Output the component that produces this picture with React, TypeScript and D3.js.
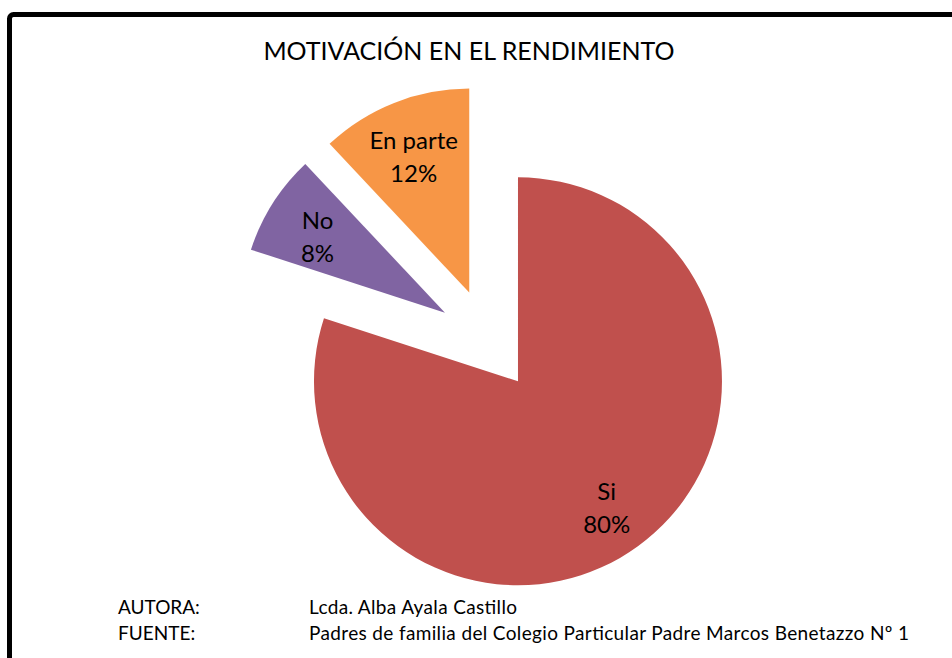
import React from "react";
import * as d3 from "d3";

const categories = ["Si", "No", "En parte"];
const values = [80, 8, 12];
const colors = ["#C0504D", "#8064A2", "#F79646"];
const title = "MOTIVACIÓN EN EL RENDIMIENTO";
const footerLabels = ["AUTORA:", "FUENTE:"];
const footerValues = ["Lcda. Alba Ayala Castillo", "Padres de familia del Colegio Particular Padre Marcos Benetazzo Nº 1"];
const footerWidths = [208, 600];

const W = 952;
const H = 658;
const cx = 488;
const cy = 340;
const R = 204;
const explode = 51;
const FONT = "Lato, 'Open Sans', sans-serif";

export default function App() {
  const total = d3.sum(values);
  const pie = d3.pie<number>().sort(null).value((d) => d)(values);
  const arc = d3.arc<d3.PieArcDatum<number>>().innerRadius(0).outerRadius(R);
  return (
    <svg width={W} height={H} style={{ position: "absolute", left: 0, top: 0 }} fontFamily={FONT}>
      <rect x={0} y={0} width={W} height={H} fill="#fff" />
      <rect x={9.5} y={14.5} width={W + 20} height={H + 20} rx={4} fill="none" stroke="#000" strokeWidth={5} />
      <text x={469} y={60} textAnchor="middle" fontSize={25} fill="#000">{title}</text>
      {pie.map((p, i) => {
        const mid = (p.startAngle + p.endAngle) / 2;
        const dx = Math.sin(mid) * explode;
        const dy = -Math.cos(mid) * explode;
        const lr = R * 0.74;
        const lx = Math.sin(mid) * lr;
        const ly = -Math.cos(mid) * lr;
        const pct = Math.round((values[i] / total) * 100) + "%";
        return (
          <g key={i} transform={`translate(${cx + dx},${cy + dy})`}>
            <path d={arc(p) || ""} fill={colors[i]} />
            <text x={lx} y={ly - 3} textAnchor="middle" fontSize={24} fill="#000">{categories[i]}</text>
            <text x={lx} y={ly + 30} textAnchor="middle" fontSize={24} fill="#000">{pct}</text>
          </g>
        );
      })}
      {footerLabels.map((l, i) => (
        <g key={l}>
          <text x={118} y={614 + i * 26} fontSize={19} fill="#000">{l}</text>
          <text x={309} y={614 + i * 26} fontSize={19} fill="#000" textLength={footerWidths[i]} lengthAdjust="spacing">{footerValues[i]}</text>
        </g>
      ))}
    </svg>
  );
}
